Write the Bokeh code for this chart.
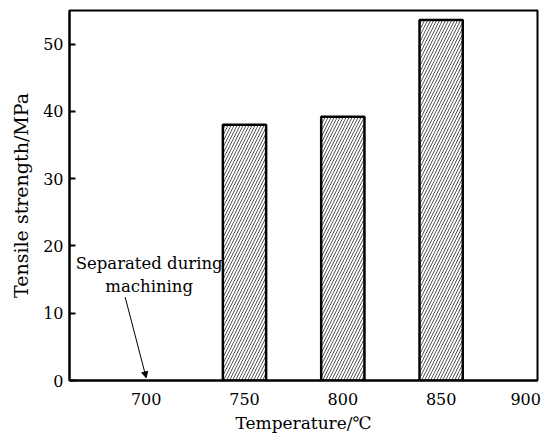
from bokeh.plotting import figure
from bokeh.models import Range1d, FixedTicker, Label, Arrow, NormalHead
from bokeh.embed import file_html
from bokeh.resources import INLINE

temperatures = [750, 800, 850]
strengths = [38.0, 39.2, 53.6]
x_ticks = [700, 750, 800, 850, 893]
x_tick_labels = {700: "700", 750: "750", 800: "800", 850: "850", 893: "900"}
y_ticks = [0, 10, 20, 30, 40, 50]

FONT = "DejaVu Serif"

p = figure(width=542, height=435, output_backend="svg", toolbar_location=None,
           x_range=Range1d(661, 899), y_range=Range1d(0, 55),
           min_border_left=69, min_border_right=5, min_border_top=10, min_border_bottom=53)

p.vbar(x=temperatures, top=strengths, width=22, bottom=0,
       fill_color="white", line_color="black", line_width=2.5,
       hatch_pattern="/", hatch_color="#2a2a2a", hatch_scale=6, hatch_weight=0.8)

p.xgrid.visible = False
p.ygrid.visible = False
p.outline_line_color = "black"
p.outline_line_width = 2

p.xaxis.ticker = FixedTicker(ticks=x_ticks)
p.xaxis.major_label_overrides = x_tick_labels
p.xaxis.minor_tick_line_color = None
p.xaxis.axis_line_width = 2
p.xaxis.axis_label = "Temperature/℃"

p.yaxis.ticker = FixedTicker(ticks=y_ticks)
p.yaxis.major_tick_in = 6
p.yaxis.major_tick_out = 0
p.yaxis.major_tick_line_width = 2
p.yaxis.minor_tick_line_color = None
p.yaxis.axis_line_width = 2
p.yaxis.axis_label = "Tensile strength/MPa"

for ax in (p.xaxis, p.yaxis):
    ax.major_label_text_font = FONT
    ax.major_label_text_font_size = "16px"
    ax.major_label_text_color = "black"
    ax.axis_label_text_font = FONT
    ax.axis_label_text_font_style = "normal"
    ax.axis_label_text_color = "black"
    ax.axis_line_color = "black"
p.xaxis.major_tick_line_color = None
p.yaxis.major_tick_line_color = "black"
p.xaxis.axis_label_text_font_size = "17px"
p.yaxis.axis_label_text_font_size = "19px"

p.xaxis.major_label_standoff = 6
p.xaxis.axis_label_standoff = 5
p.yaxis.major_label_standoff = 6
p.yaxis.axis_label_standoff = 8

for txt, yv in (("Separated during", 17.4), ("machining", 14.0)):
    p.add_layout(Label(x=701.5, y=yv, text=txt, text_align="center", text_baseline="middle",
                       text_font=FONT, text_font_size="16.5px", text_color="black"))

p.add_layout(Arrow(x_start=689.3, y_start=12.4, x_end=700, y_end=0.4,
                   line_color="black", line_width=1,
                   end=NormalHead(size=6, fill_color="black", line_color="black")))

open("out.html", "w").write(file_html(p, INLINE))
